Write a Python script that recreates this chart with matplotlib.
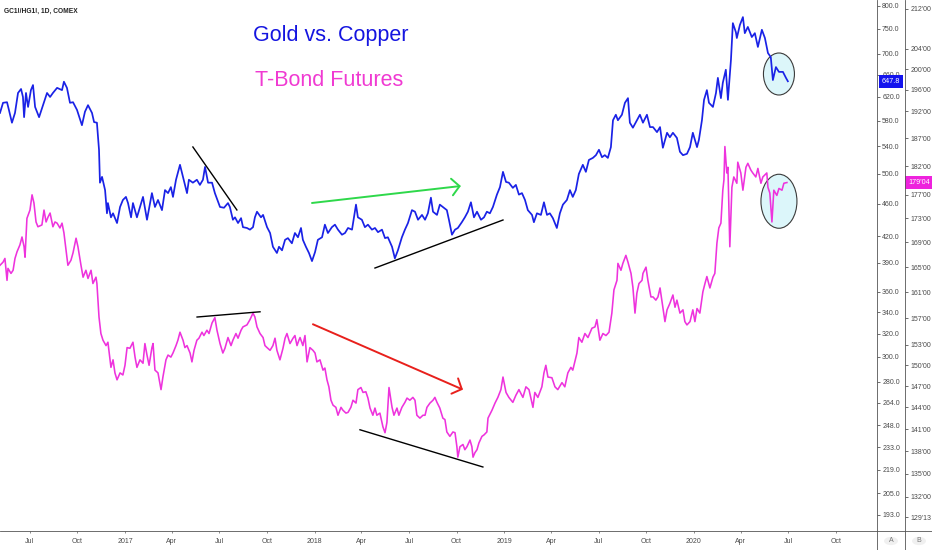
import matplotlib
matplotlib.use('Agg')
import matplotlib.pyplot as plt
from matplotlib.lines import Line2D
from matplotlib.patches import Ellipse, Circle
from matplotlib.transforms import ScaledTranslation
from matplotlib.ticker import FixedLocator, FixedFormatter, NullLocator

# ---------------- data (decimal years) ----------------
gc_t = [2016.341, 2016.357, 2016.378, 2016.388, 2016.404, 2016.420, 2016.436, 2016.452, 2016.462, 2016.468,
        2016.478, 2016.489, 2016.504, 2016.515, 2016.526, 2016.547, 2016.568, 2016.589, 2016.605, 2016.620,
        2016.642, 2016.668, 2016.678, 2016.694, 2016.710, 2016.726, 2016.747, 2016.773, 2016.789, 2016.805,
        2016.826, 2016.837, 2016.852, 2016.863, 2016.868, 2016.879, 2016.895, 2016.905, 2016.910, 2016.926,
        2016.937, 2016.958, 2016.974, 2016.989, 2017.005, 2017.016, 2017.032, 2017.042, 2017.063, 2017.079,
        2017.095, 2017.116, 2017.142, 2017.158, 2017.174, 2017.195, 2017.211, 2017.227, 2017.242, 2017.253,
        2017.269, 2017.290, 2017.306, 2017.327, 2017.337, 2017.358, 2017.379, 2017.395, 2017.411, 2017.422,
        2017.438, 2017.459, 2017.474, 2017.501, 2017.522, 2017.543, 2017.553, 2017.569, 2017.580, 2017.596,
        2017.612, 2017.622, 2017.643, 2017.659, 2017.675, 2017.685, 2017.696, 2017.717, 2017.728, 2017.749,
        2017.765, 2017.780, 2017.801, 2017.812, 2017.828, 2017.844, 2017.859, 2017.880, 2017.896, 2017.912,
        2017.928, 2017.938, 2017.954, 2017.970, 2017.986, 2018.002, 2018.017, 2018.039, 2018.054, 2018.070,
        2018.091, 2018.107, 2018.123, 2018.144, 2018.160, 2018.176, 2018.197, 2018.218, 2018.228, 2018.249,
        2018.265, 2018.281, 2018.302, 2018.318, 2018.334, 2018.355, 2018.371, 2018.386, 2018.408, 2018.423,
        2018.439, 2018.460, 2018.476, 2018.492, 2018.513, 2018.529, 2018.545, 2018.566, 2018.582, 2018.597,
        2018.613, 2018.624, 2018.645, 2018.660, 2018.676, 2018.697, 2018.708, 2018.724, 2018.740, 2018.755,
        2018.776, 2018.792, 2018.808, 2018.824, 2018.840, 2018.856, 2018.877, 2018.893, 2018.908, 2018.924,
        2018.940, 2018.961, 2018.977, 2018.993, 2019.009, 2019.024, 2019.045, 2019.061, 2019.077, 2019.093,
        2019.109, 2019.124, 2019.146, 2019.156, 2019.172, 2019.193, 2019.209, 2019.225, 2019.240, 2019.256,
        2019.277, 2019.293, 2019.309, 2019.330, 2019.346, 2019.361, 2019.377, 2019.393, 2019.414, 2019.430,
        2019.446, 2019.467, 2019.483, 2019.499, 2019.515, 2019.530, 2019.546, 2019.562, 2019.573, 2019.588,
        2019.599, 2019.620, 2019.636, 2019.652, 2019.662, 2019.678, 2019.699, 2019.715, 2019.731, 2019.752,
        2019.768, 2019.784, 2019.805, 2019.821, 2019.836, 2019.858, 2019.873, 2019.889, 2019.910, 2019.926,
        2019.942, 2019.963, 2019.979, 2019.994, 2020.016, 2020.026, 2020.042, 2020.053, 2020.068, 2020.079,
        2020.100, 2020.116, 2020.126, 2020.142, 2020.152, 2020.168, 2020.179, 2020.195, 2020.205, 2020.221,
        2020.226, 2020.242, 2020.258, 2020.268, 2020.284, 2020.305, 2020.321, 2020.337, 2020.358, 2020.374,
        2020.390, 2020.405, 2020.416, 2020.432, 2020.448, 2020.469, 2020.485, 2020.495]
gc_ratio = [593, 610, 611, 598, 577, 593, 627, 634, 620, 586,
            627, 603, 632, 641, 603, 586, 606, 627, 620, 627,
            636, 632, 647, 636, 610, 611, 598, 573, 595, 606,
            593, 578, 577, 535, 488, 496, 478, 448, 461, 443,
            448, 436, 456, 465, 469, 461, 443, 461, 443, 456,
            469, 440, 474, 456, 465, 452, 478, 474, 482, 469,
            492, 513, 496, 474, 492, 488, 492, 485, 492, 510,
            488, 488, 474, 456, 455, 461, 456, 440, 443, 436,
            442, 431, 430, 428, 431, 443, 450, 443, 446, 431,
            424, 408, 401, 408, 404, 416, 418, 412, 424, 419,
            430, 416, 408, 401, 392, 402, 416, 419, 434, 424,
            431, 434, 428, 422, 424, 430, 428, 459, 443, 440,
            431, 434, 428, 430, 425, 428, 418, 419, 408, 395,
            404, 419, 428, 436, 452, 450, 440, 446, 440, 448,
            468, 450, 446, 459, 456, 452, 440, 422, 428, 430,
            437, 443, 450, 462, 443, 450, 440, 443, 450, 448,
            456, 472, 482, 503, 489, 488, 481, 485, 472, 474,
            465, 452, 446, 437, 448, 446, 462, 446, 448, 442,
            430, 448, 459, 465, 478, 469, 478, 500, 513, 503,
            520, 523, 527, 535, 524, 527, 523, 539, 581, 590,
            581, 590, 610, 618, 577, 569, 581, 590, 577, 590,
            570, 570, 562, 570, 538, 561, 554, 561, 553, 532,
            527, 529, 539, 561, 539, 550, 581, 615, 632, 610,
            603, 627, 654, 618, 645, 669, 615, 688, 762, 743,
            731, 758, 775, 741, 754, 733, 741, 713, 748, 731,
            701, 693, 650, 674, 665, 665, 654, 647.8]

zb_t = [2016.341, 2016.357, 2016.367, 2016.378, 2016.383, 2016.399, 2016.410, 2016.420, 2016.431, 2016.446,
        2016.457, 2016.468, 2016.473, 2016.483, 2016.499, 2016.510, 2016.520, 2016.531, 2016.541, 2016.562,
        2016.573, 2016.584, 2016.594, 2016.605, 2016.620, 2016.631, 2016.642, 2016.657, 2016.668, 2016.678,
        2016.689, 2016.699, 2016.715, 2016.726, 2016.742, 2016.752, 2016.768, 2016.779, 2016.794, 2016.805,
        2016.821, 2016.831, 2016.847, 2016.852, 2016.863, 2016.873, 2016.884, 2016.900, 2016.910, 2016.926,
        2016.937, 2016.947, 2016.958, 2016.974, 2016.989, 2017.000, 2017.011, 2017.026, 2017.042, 2017.053,
        2017.063, 2017.079, 2017.095, 2017.105, 2017.116, 2017.127, 2017.142, 2017.148, 2017.158, 2017.174,
        2017.190, 2017.200, 2017.216, 2017.227, 2017.242, 2017.253, 2017.269, 2017.279, 2017.290, 2017.306,
        2017.316, 2017.327, 2017.343, 2017.353, 2017.364, 2017.379, 2017.390, 2017.406, 2017.416, 2017.432,
        2017.443, 2017.459, 2017.474, 2017.485, 2017.501, 2017.516, 2017.527, 2017.543, 2017.559, 2017.569,
        2017.585, 2017.596, 2017.612, 2017.622, 2017.643, 2017.659, 2017.675, 2017.685, 2017.696, 2017.712,
        2017.728, 2017.738, 2017.749, 2017.765, 2017.780, 2017.791, 2017.801, 2017.817, 2017.833, 2017.844,
        2017.854, 2017.870, 2017.886, 2017.896, 2017.907, 2017.917, 2017.923, 2017.938, 2017.949, 2017.960,
        2017.975, 2017.991, 2018.002, 2018.012, 2018.028, 2018.044, 2018.054, 2018.065, 2018.075, 2018.086,
        2018.097, 2018.112, 2018.123, 2018.139, 2018.149, 2018.165, 2018.176, 2018.191, 2018.202, 2018.218,
        2018.228, 2018.244, 2018.255, 2018.270, 2018.281, 2018.292, 2018.307, 2018.318, 2018.328, 2018.344,
        2018.360, 2018.371, 2018.381, 2018.392, 2018.408, 2018.418, 2018.434, 2018.444, 2018.460, 2018.476,
        2018.487, 2018.502, 2018.518, 2018.529, 2018.539, 2018.555, 2018.571, 2018.582, 2018.592, 2018.608,
        2018.624, 2018.634, 2018.645, 2018.660, 2018.676, 2018.687, 2018.697, 2018.713, 2018.729, 2018.740,
        2018.750, 2018.755, 2018.766, 2018.782, 2018.792, 2018.803, 2018.819, 2018.829, 2018.835, 2018.845,
        2018.856, 2018.866, 2018.882, 2018.893, 2018.908, 2018.914, 2018.935, 2018.951, 2018.966, 2018.982,
        2018.993, 2019.009, 2019.024, 2019.045, 2019.061, 2019.077, 2019.098, 2019.114, 2019.130, 2019.151,
        2019.161, 2019.177, 2019.198, 2019.209, 2019.219, 2019.230, 2019.251, 2019.267, 2019.282, 2019.304,
        2019.319, 2019.335, 2019.351, 2019.361, 2019.383, 2019.393, 2019.409, 2019.425, 2019.441, 2019.462,
        2019.478, 2019.488, 2019.504, 2019.520, 2019.536, 2019.552, 2019.567, 2019.578, 2019.594, 2019.599,
        2019.615, 2019.625, 2019.641, 2019.652, 2019.668, 2019.678, 2019.689, 2019.699, 2019.710, 2019.726,
        2019.731, 2019.747, 2019.757, 2019.773, 2019.784, 2019.799, 2019.810, 2019.821, 2019.836, 2019.847,
        2019.858, 2019.873, 2019.889, 2019.900, 2019.910, 2019.926, 2019.942, 2019.952, 2019.963, 2019.979,
        2019.994, 2020.005, 2020.016, 2020.031, 2020.047, 2020.058, 2020.068, 2020.084, 2020.100, 2020.110,
        2020.121, 2020.131, 2020.142, 2020.152, 2020.158, 2020.163, 2020.173, 2020.179, 2020.189, 2020.200,
        2020.210, 2020.226, 2020.231, 2020.247, 2020.258, 2020.274, 2020.284, 2020.300, 2020.310, 2020.326,
        2020.337, 2020.353, 2020.363, 2020.384, 2020.390, 2020.400, 2020.411, 2020.421, 2020.437, 2020.448,
        2020.464, 2020.474, 2020.490]
zb_price = [165.3, 165.8, 166.4, 162.9, 164.8, 164.0, 164.5, 166.4, 167.5, 168.6,
            169.9, 168.3, 166.6, 173.0, 174.4, 177.0, 175.6, 172.4, 171.6, 171.9,
            174.4, 172.4, 173.2, 173.9, 171.6, 172.4, 172.2, 171.4, 172.2, 170.6,
            167.8, 165.3, 166.1, 167.3, 169.7, 168.3, 165.3, 163.4, 164.5, 163.2,
            164.5, 162.4, 163.4, 162.4, 157.2, 154.7, 153.7, 152.9, 153.4, 149.7,
            150.8, 148.9, 147.9, 148.9, 148.6, 150.0, 152.6, 152.5, 153.4, 151.2,
            149.7, 150.8, 150.3, 153.2, 151.5, 150.0, 152.6, 153.2, 149.3, 148.9,
            146.5, 148.3, 150.8, 151.5, 151.2, 151.8, 152.9, 153.7, 154.9, 153.7,
            152.6, 152.9, 151.8, 150.5, 152.2, 153.7, 154.0, 154.9, 154.4, 155.2,
            154.7, 156.3, 157.1, 155.2, 153.2, 151.8, 152.5, 154.1, 152.9, 153.7,
            154.7, 154.0, 155.2, 155.7, 156.0, 156.8, 157.8, 157.2, 155.7, 154.7,
            154.1, 152.9, 152.6, 152.2, 152.9, 154.0, 152.2, 150.8, 152.5, 154.0,
            154.7, 153.2, 154.0, 154.4, 152.9, 153.7, 154.1, 152.9, 154.4, 150.5,
            152.6, 152.2, 151.8, 150.5, 150.8, 149.3, 149.6, 147.9, 146.9, 145.0,
            144.3, 144.0, 142.9, 144.0, 143.6, 143.2, 143.3, 144.0, 145.0, 144.6,
            146.5, 146.8, 146.1, 146.2, 145.3, 143.9, 142.9, 143.9, 142.9, 143.2,
            141.3, 140.5, 141.9, 146.8, 144.0, 142.9, 143.9, 142.9, 144.0, 144.7,
            145.3, 145.0, 145.4, 145.0, 142.9, 142.5, 142.9, 142.9, 144.0, 144.6,
            145.0, 145.4, 144.7, 143.9, 142.5, 142.3, 140.6, 140.0, 140.6, 140.5,
            138.6, 137.2, 138.6, 138.9, 138.2, 138.6, 139.5, 138.6, 137.2, 137.8,
            138.2, 139.1, 140.0, 140.2, 140.6, 142.5, 143.6, 144.6, 145.4, 146.5,
            148.3, 146.1, 145.4, 144.7, 145.7, 146.5, 145.4, 146.9, 146.5, 144.0,
            146.1, 145.4, 146.9, 148.9, 150.0, 148.3, 148.2, 146.9, 146.5, 147.5,
            146.9, 148.9, 149.7, 149.3, 151.8, 154.1, 153.4, 154.7, 154.1, 155.5,
            155.7, 156.8, 153.7, 154.7, 154.4, 154.9, 157.8, 161.4, 162.9, 165.6,
            164.5, 165.6, 166.9, 165.8, 164.0, 161.8, 157.8, 160.9, 162.4, 162.9,
            164.0, 165.0, 162.9, 160.3, 160.3, 159.8, 160.3, 161.7, 158.7, 156.5,
            158.3, 159.3, 160.6, 158.7, 159.8, 157.8, 158.3, 156.5, 156.0, 156.5,
            158.3, 156.5, 158.5, 157.8, 161.1, 162.4, 163.5, 161.7, 163.4, 164.0,
            168.9, 171.4, 172.2, 177.8, 179.6, 185.5, 180.8, 181.8, 168.3, 178.3,
            180.1, 179.0, 182.7, 180.8, 177.8, 181.8, 182.5, 181.3, 180.8, 180.1,
            181.6, 179.0, 180.1, 180.8, 178.3, 177.3, 172.4, 177.8, 176.9, 178.1,
            177.8, 179.0, 179.125]

# axis ticks
gc_ticks = [800, 750, 700, 660, 620, 580, 540, 500, 460, 420, 390, 360, 340, 320, 300,
            280, 264, 248, 233, 219, 205, 193]
zb_ticks = [212, 204, 200, 196, 192, 187, 182, 177, 173, 169, 165, 161, 157, 153, 150,
            147, 144, 141, 138, 135, 132, 129 + 13 / 32]
month_labels = ['Jul', 'Oct', '2017', 'Apr', 'Jul', 'Oct', '2018', 'Apr', 'Jul', 'Oct',
                '2019', 'Apr', 'Jul', 'Oct', '2020', 'Apr', 'Jul', 'Oct']
month_ticks = [2016.497, 2016.748, 2017.0, 2017.247, 2017.497, 2017.748, 2018.0, 2018.247,
               2018.497, 2018.748, 2019.0, 2019.247, 2019.497, 2019.748, 2020.0, 2020.247,
               2020.497, 2020.748]

# drawn trend lines (time, value)
gc_down_line = [(2017.358, 539.2), (2017.590, 452.2)]
gc_up_line = [(2018.318, 384.5), (2018.993, 439.7)]
gc_arrow = [(2017.986, 461.1), (2018.771, 483.5)]
zb_top_line = [(2017.380, 157.2), (2017.712, 158.0)]
zb_arrow = [(2017.991, 156.1), (2018.782, 146.5)]
zb_low_line = [(2018.239, 140.9), (2018.887, 135.9)]
gc_circle = (2020.448, 661.1)
zb_circle = (2020.448, 175.9)

# ---------------- figure ----------------
W, H = 932, 550
fig = plt.figure(figsize=(W / 100, H / 100), dpi=100)
fig.patch.set_facecolor('white')
ax = fig.add_axes([0, 19 / H, 877 / W, 531 / H])
ax2 = ax.twinx()

NARROW = ['Liberation Sans Narrow', 'Liberation Sans', 'DejaVu Sans']
BLUE = '#1a22e6'
PINK = '#ee33dd'
TXT = '#4a4a4a'

ax.set_yscale('log')
ax2.set_yscale('log')
ax.set_xlim(2016.341, 2020.965)
ax.set_ylim(184.45, 812.9)
ax2.set_ylim(127.71, 213.86)

ax.plot(gc_t, gc_ratio, color=BLUE, lw=1.25, zorder=3, solid_joinstyle='round')
ax2.plot(zb_t, zb_price, color=PINK, lw=1.15, zorder=3, solid_joinstyle='round')

for a in (ax, ax2):
    for s in a.spines.values():
        s.set_visible(False)
    a.yaxis.set_minor_locator(NullLocator())
    a.patch.set_visible(False)

ax.yaxis.set_ticks_position('right')
ax.yaxis.set_major_locator(FixedLocator(gc_ticks))
ax.yaxis.set_major_formatter(FixedFormatter([f'{v:.1f}' for v in gc_ticks]))
ax.tick_params(axis='y', which='major', direction='out', length=2.2, width=0.6,
               color='#555555', labelcolor=TXT, labelsize=5.0, pad=1.5)

def frac32(v):
    w = int(v)
    return f"{w}'{int(round((v - w) * 32)):02d}"

ax2.spines['right'].set_position(('outward', 28 * 0.72))
ax2.yaxis.set_major_locator(FixedLocator(zb_ticks))
ax2.yaxis.set_major_formatter(FixedFormatter([frac32(v) for v in zb_ticks]))
ax2.tick_params(axis='y', which='major', direction='out', length=2.2, width=0.6,
                color='#555555', labelcolor=TXT, labelsize=5.0, pad=1.5)

ax.set_xticks(month_ticks)
ax.set_xticklabels(month_labels)
ax.tick_params(axis='x', direction='out', length=1.5, width=0.6, color='#777777',
               labelcolor=TXT, labelsize=5.0, pad=3.5)
for lab in ax.get_xticklabels() + ax.get_yticklabels() + ax2.get_yticklabels():
    lab.set_family(NARROW)

# trend lines and arrows
for seg, a in ((gc_down_line, ax), (gc_up_line, ax), (zb_top_line, ax2), (zb_low_line, ax2)):
    a.plot([seg[0][0], seg[1][0]], [seg[0][1], seg[1][1]], color='black', lw=1.0, zorder=4)
ax.annotate('', xy=gc_arrow[1], xytext=gc_arrow[0],
            arrowprops=dict(arrowstyle='->,head_length=0.55,head_width=0.6', color='#2ed84a',
                            lw=1.4, shrinkA=0, shrinkB=0), zorder=4)
ax2.annotate('', xy=zb_arrow[1], xytext=zb_arrow[0],
             arrowprops=dict(arrowstyle='->,head_length=0.55,head_width=0.6', color='#e8201c',
                             lw=1.4, shrinkA=0, shrinkB=0), zorder=4)

# circles (sized in pixels, centred on data)
for (cx, cy), a, w, h in ((gc_circle, ax, 0.31, 0.42), (zb_circle, ax2, 0.36, 0.54)):
    tr = fig.dpi_scale_trans + ScaledTranslation(cx, cy, a.transData)
    a.add_patch(Ellipse((0, 0), w, h, transform=tr, facecolor='#dcf6fa',
                        edgecolor='#3a3a3a', lw=0.8, zorder=1))

# border lines
fig.add_artist(Line2D([877 / W, 877 / W], [0, 1], transform=fig.transFigure, color='#555555', lw=0.6))
fig.add_artist(Line2D([905 / W, 905 / W], [0, 1], transform=fig.transFigure, color='#555555', lw=0.6))
fig.add_artist(Line2D([0, 1], [19 / H, 19 / H], transform=fig.transFigure, color='#555555', lw=0.6))

# last-value labels
ax.annotate(f'{gc_ratio[-1]:.1f}', xy=(1, gc_ratio[-1]), xycoords=ax.get_yaxis_transform(),
            xytext=(14 * 0.72, 0), textcoords='offset points', ha='center', va='center',
            color='white', fontsize=5.2, family=NARROW, annotation_clip=False, zorder=10,
            bbox=dict(boxstyle='square,pad=0.4', facecolor='#1414ee', edgecolor='none'))
ax2.annotate(frac32(zb_price[-1]), xy=(1, zb_price[-1]), xycoords=ax2.get_yaxis_transform(),
             xytext=(42 * 0.72, 0), textcoords='offset points', ha='center', va='center',
             color='white', fontsize=5.2, family=NARROW, annotation_clip=False, zorder=10,
             bbox=dict(boxstyle='square,pad=0.4', facecolor='#ee22dd', edgecolor='none'))

# A / B scale badges
for xc, letter in ((891, 'A'), (919, 'B')):
    fig.add_artist(Circle((xc / W, 1 - 541 / H), 0.0075, transform=fig.transFigure,
                          facecolor='#f0f0f0', edgecolor='none'))
    fig.text(xc / W, 1 - 541 / H, letter, ha='center', va='center', fontsize=5.0,
             color='#777777', family=NARROW)

# texts
fig.text(4 / W, 1 - 11 / H, 'GC1!/HG1!, 1D, COMEX', ha='left', va='center', fontsize=4.8,
         fontweight='bold', color='#222222', family=NARROW)
fig.text(331 / W, 1 - 35 / H, 'Gold vs. Copper', ha='center', va='center', fontsize=15.5,
         color='#1515e0', family=NARROW)
fig.text(329 / W, 1 - 80 / H, 'T-Bond Futures', ha='center', va='center', fontsize=15.5,
         color='#f03ad2', family=NARROW)

fig.savefig('out.png', dpi=100, facecolor='white')
